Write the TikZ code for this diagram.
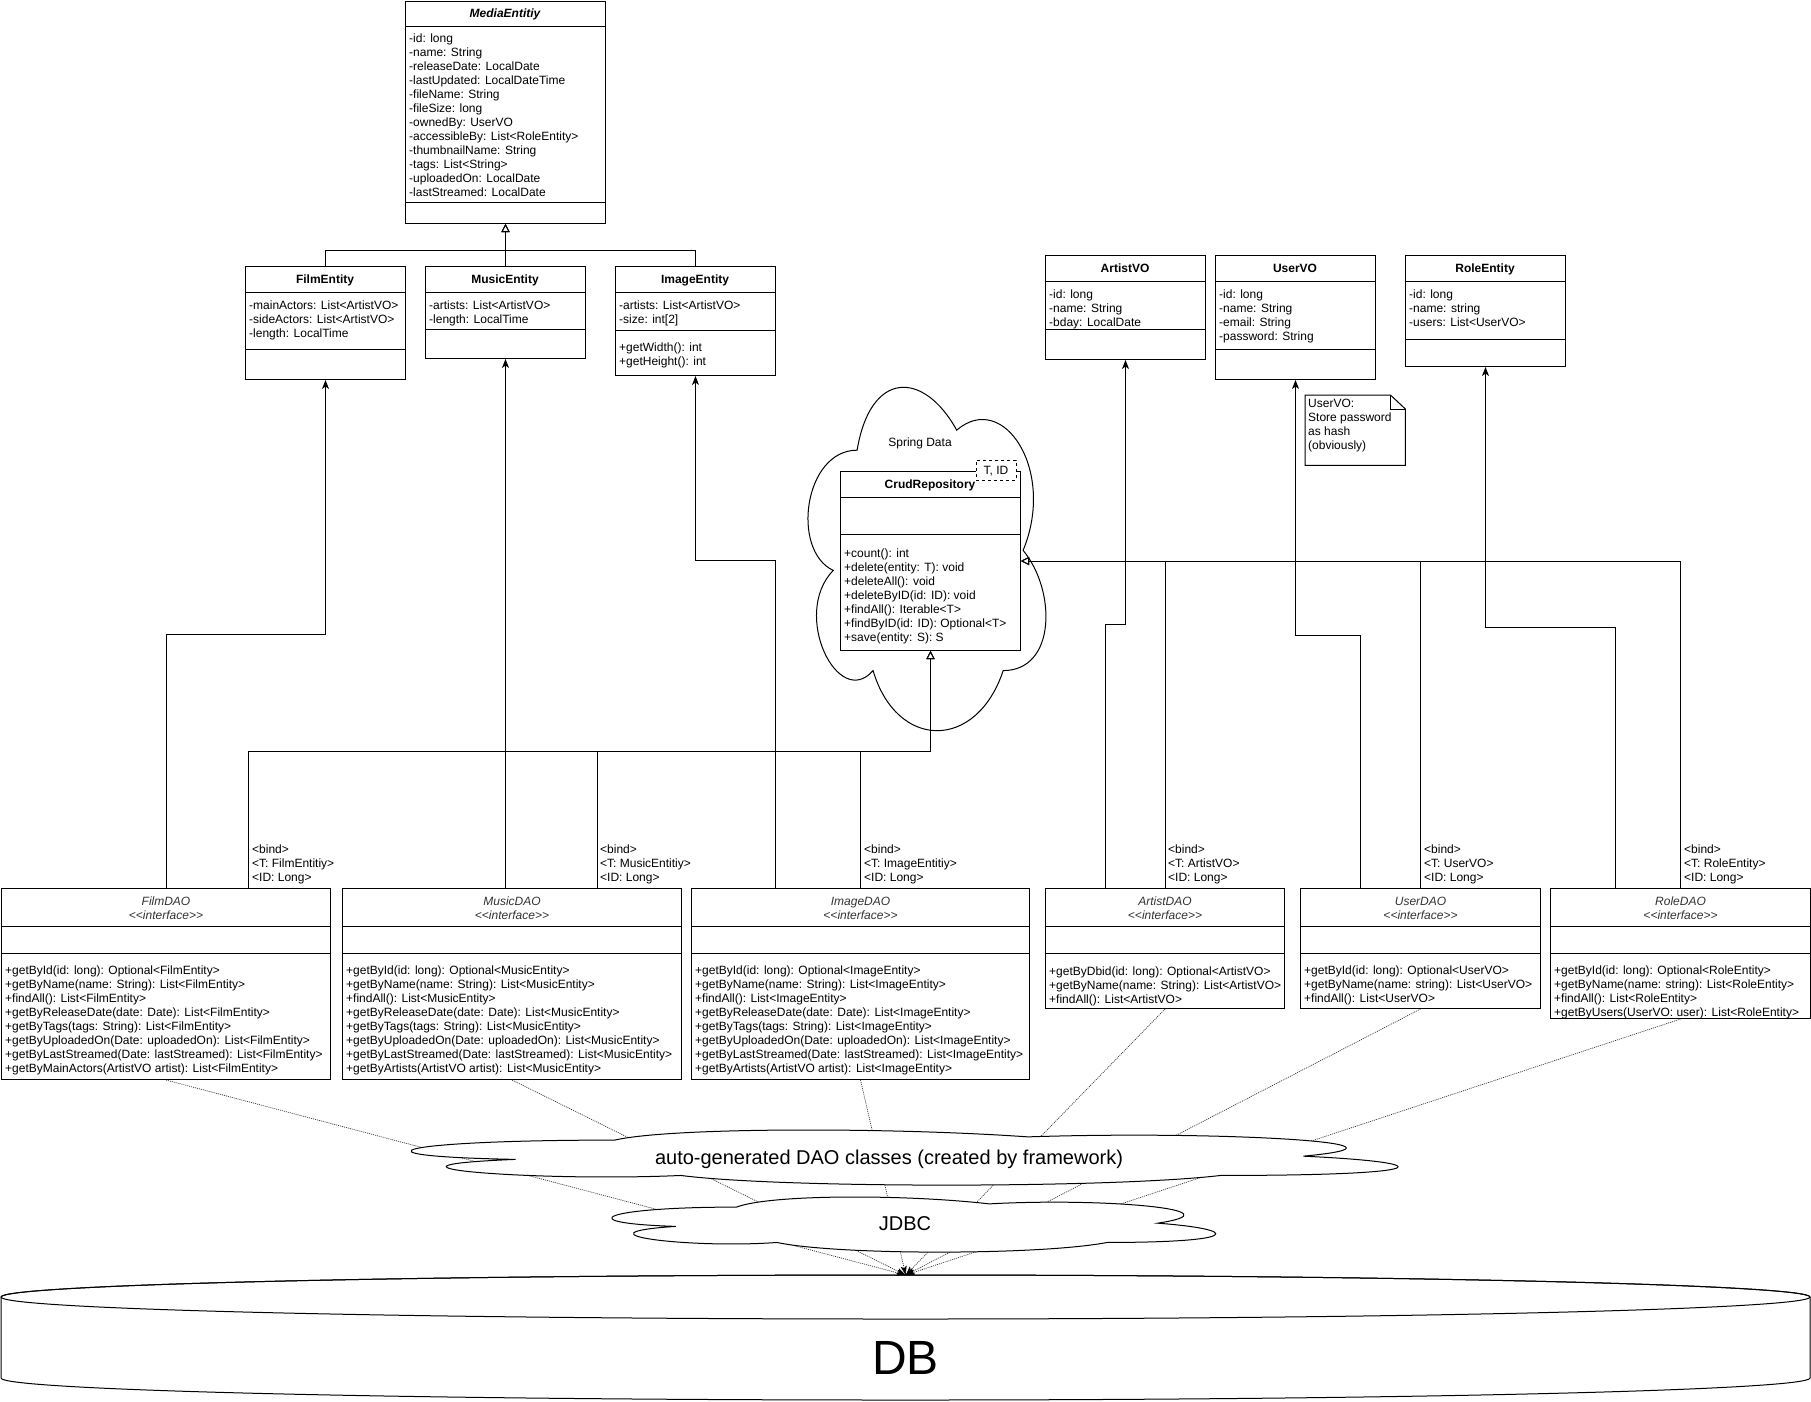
\documentclass[tikz,border=0pt]{standalone}
\usepackage{fontspec}
\setmainfont{Liberation Sans}
\usetikzlibrary{arrows.meta,calc}

% first-line strut so that every text block starts at the same height
\newcommand{\rowstrut}{\rule[-4pt]{0pt}{14pt}}
% stereotype text without the << >> ligature
\newcommand{\stereo}[1]{<{}<#1>{}>}
% horizontal compartment line inside a class box
\newcommand{\divider}[2]{\draw[boxline] (#1.west |- 0,#2) -- (#1.east |- 0,#2);}
% cloud outline: x0, y0, width, height of its frame
\newcommand{\mxcloud}[4]{%
  \draw[cloudline]
    ({#1+0.25*#3},{#2+0.25*#4})
    .. controls ({#1+0.05*#3},{#2+0.25*#4}) and ({#1},{#2+0.5*#4}) .. ({#1+0.16*#3},{#2+0.55*#4})
    .. controls ({#1},{#2+0.66*#4}) and ({#1+0.18*#3},{#2+0.9*#4}) .. ({#1+0.31*#3},{#2+0.8*#4})
    .. controls ({#1+0.4*#3},{#2+#4}) and ({#1+0.7*#3},{#2+#4}) .. ({#1+0.8*#3},{#2+0.8*#4})
    .. controls ({#1+#3},{#2+0.8*#4}) and ({#1+#3},{#2+0.6*#4}) .. ({#1+0.875*#3},{#2+0.5*#4})
    .. controls ({#1+#3},{#2+0.3*#4}) and ({#1+0.8*#3},{#2+0.1*#4}) .. ({#1+0.625*#3},{#2+0.2*#4})
    .. controls ({#1+0.5*#3},{#2+0.05*#4}) and ({#1+0.3*#3},{#2+0.05*#4}) .. cycle;}

\begin{document}
\begin{tikzpicture}[x=1pt,y=-1pt,
  font=\fontsize{12}{14}\selectfont,
  boxline/.style={line width=1pt},
  box/.style={draw, fill=white, line width=1pt, anchor=north west, inner sep=0pt},
  title/.style={inner sep=0pt, text height=8.6pt, text depth=0pt, font=\fontsize{12}{14}\selectfont\bfseries},
  daotitle/.style={inner sep=0pt, text height=8.6pt, text depth=0pt, font=\fontsize{12}{14}\selectfont\itshape, text=black!80},
  rows/.style={anchor=north west, inner sep=0pt, align=left},
  label/.style={inner sep=0pt, text height=8.6pt, text depth=0pt},
  assoc/.style={line width=1pt, -{Stealth[length=9pt,width=7pt,inset=2.5pt]}},
  gen/.style={line width=1pt, -{Triangle[open,fill=white,length=8pt,width=8pt]}},
  dbline/.style={line width=0.7pt, black!80, dash pattern=on 1pt off 1pt, -{Stealth[length=9pt,width=6pt,inset=2pt,color=black,fill=black]}},
  cloudline/.style={draw, fill=white, line width=1pt},
]
\fill[white] (0,0) rectangle (1811,1401);
\useasboundingbox (0,0) rectangle (1811,1401);

% ---------- Spring Data cloud ----------
\mxcloud{790.7}{350}{265.6}{400.7}
\node[label] (springdata) at (920,442) {Spring Data};

% ---------- entity classes ----------
\node[box, minimum width=200pt, minimum height=222pt] (media) at (405,1) {};
\node[title, font=\fontsize{12}{14}\selectfont\bfseries\itshape] (media-t) at (505,13.5) {MediaEntitiy};
\divider{media}{26}\divider{media}{202}
\node[rows] (media-a) at (409,32.3) {\rowstrut -id: long\\-name: String\\-releaseDate: LocalDate\\-lastUpdated: LocalDateTime\\-fileName: String\\-fileSize: long\\-ownedBy: UserVO\\-accessibleBy: List<RoleEntity>\\-thumbnailName: String\\-tags: List<String>\\-uploadedOn: LocalDate\\-lastStreamed: LocalDate};

\node[box, minimum width=160pt, minimum height=113pt] (film) at (245,266) {};
\node[title] (film-t) at (325,279) {FilmEntity};
\divider{film}{292}\divider{film}{349}
\node[rows] (film-a) at (249,299.3) {\rowstrut -mainActors: List<ArtistVO>\\-sideActors: List<ArtistVO>\\-length: LocalTime};

\node[box, minimum width=160pt, minimum height=92pt] (music) at (425,266) {};
\node[title] (music-t) at (505,279) {MusicEntity};
\divider{music}{292}\divider{music}{329}
\node[rows] (music-a) at (429,299.3) {\rowstrut -artists: List<ArtistVO>\\-length: LocalTime};

\node[box, minimum width=160pt, minimum height=109pt] (image) at (615,266) {};
\node[title] (image-t) at (695,279) {ImageEntity};
\divider{image}{292}\divider{image}{330}
\node[rows] (image-a) at (619,299.3) {\rowstrut -artists: List<ArtistVO>\\-size: int[2]};
\node[rows] (image-m) at (619,341.3) {\rowstrut +getWidth(): int\\+getHeight(): int};

\node[box, minimum width=160pt, minimum height=104pt] (artist) at (1045,255) {};
\node[title] (artist-t) at (1125,268) {ArtistVO};
\divider{artist}{281}\divider{artist}{329}
\node[rows] (artist-a) at (1049,288.3) {\rowstrut -id: long\\-name: String\\-bday: LocalDate};

\node[box, minimum width=160pt, minimum height=124pt] (user) at (1215,255) {};
\node[title] (user-t) at (1295,268) {UserVO};
\divider{user}{281}\divider{user}{349}
\node[rows] (user-a) at (1219,288.3) {\rowstrut -id: long\\-name: String\\-email: String\\-password: String};

\node[box, minimum width=160pt, minimum height=111pt] (role) at (1405,255) {};
\node[title] (role-t) at (1485,268) {RoleEntity};
\divider{role}{281}\divider{role}{339}
\node[rows] (role-a) at (1409,288.3) {\rowstrut -id: long\\-name: string\\-users: List<UserVO>};

% ---------- note ----------
\node[inner sep=0pt, minimum width=100pt, minimum height=70pt, anchor=north west] (note) at (1305,395) {};
\draw[line width=1pt, fill=white] (note.north west) -- ($(note.north east)+(-15,0)$) -- ($(note.north east)+(0,14)$) -- (note.south east) -- (note.south west) -- cycle;
\draw[line width=1pt] ($(note.north east)+(-15,0)$) -- ($(note.north east)+(-15,14)$) -- ($(note.north east)+(0,14)$);
\node[rows] (note-t) at (1308,397.3) {\rowstrut UserVO:\\Store password\\as hash\\(obviously)};

% ---------- CrudRepository ----------
\node[box, minimum width=180pt, minimum height=179pt] (crud) at (840,471) {};
\node[title] (crud-t) at (930,484) {CrudRepository};
\divider{crud}{497}\divider{crud}{534}
\node[rows] (crud-m) at (844,547.3) {\rowstrut +count(): int\\+delete(entity: T): void\\+deleteAll(): void\\+deleteByID(id: ID): void\\+findAll(): Iterable<T>\\+findByID(id: ID): Optional<T>\\+save(entity: S): S};
\node[draw, fill=white, line width=1pt, dash pattern=on 3pt off 3pt, inner sep=0pt, minimum width=40pt, minimum height=20pt, text height=8.6pt, text depth=0pt] (crud-tpl) at (996,470) {T, ID};

% ---------- DAO interfaces ----------
\node[box, minimum width=329pt, minimum height=191pt] (filmdao) at (1,888) {};
\node[daotitle] (filmdao-n) at (filmdao.north |- 0,901) {FilmDAO};
\node[daotitle] (filmdao-s) at (filmdao.north |- 0,915) {\stereo{interface}};
\divider{filmdao}{926}\divider{filmdao}{953}
\node[rows] (filmdao-m) at (5,964.3) {\rowstrut +getById(id: long): Optional<FilmEntity>\\+getByName(name: String): List<FilmEntity>\\+findAll(): List<FilmEntity>\\+getByReleaseDate(date: Date): List<FilmEntity>\\+getByTags(tags: String): List<FilmEntity>\\+getByUploadedOn(Date: uploadedOn): List<FilmEntity>\\+getByLastStreamed(Date: lastStreamed): List<FilmEntity>\\+getByMainActors(ArtistVO artist): List<FilmEntity>};

\node[box, minimum width=339pt, minimum height=191pt] (musicdao) at (342,888) {};
\node[daotitle] (musicdao-n) at (musicdao.north |- 0,901) {MusicDAO};
\node[daotitle] (musicdao-s) at (musicdao.north |- 0,915) {\stereo{interface}};
\divider{musicdao}{926}\divider{musicdao}{953}
\node[rows] (musicdao-m) at (346,964.3) {\rowstrut +getById(id: long): Optional<MusicEntity>\\+getByName(name: String): List<MusicEntity>\\+findAll(): List<MusicEntity>\\+getByReleaseDate(date: Date): List<MusicEntity>\\+getByTags(tags: String): List<MusicEntity>\\+getByUploadedOn(Date: uploadedOn): List<MusicEntity>\\+getByLastStreamed(Date: lastStreamed): List<MusicEntity>\\+getByArtists(ArtistVO artist): List<MusicEntity>};

\node[box, minimum width=338pt, minimum height=191pt] (imagedao) at (691,888) {};
\node[daotitle] (imagedao-n) at (imagedao.north |- 0,901) {ImageDAO};
\node[daotitle] (imagedao-s) at (imagedao.north |- 0,915) {\stereo{interface}};
\divider{imagedao}{926}\divider{imagedao}{953}
\node[rows] (imagedao-m) at (695,964.3) {\rowstrut +getById(id: long): Optional<ImageEntity>\\+getByName(name: String): List<ImageEntity>\\+findAll(): List<ImageEntity>\\+getByReleaseDate(date: Date): List<ImageEntity>\\+getByTags(tags: String): List<ImageEntity>\\+getByUploadedOn(Date: uploadedOn): List<ImageEntity>\\+getByLastStreamed(Date: lastStreamed): List<ImageEntity>\\+getByArtists(ArtistVO artist): List<ImageEntity>};

\node[box, minimum width=239pt, minimum height=120pt] (artistdao) at (1045,888) {};
\node[daotitle] (artistdao-n) at (artistdao.north |- 0,901) {ArtistDAO};
\node[daotitle] (artistdao-s) at (artistdao.north |- 0,915) {\stereo{interface}};
\divider{artistdao}{926}\divider{artistdao}{953}
\node[rows] (artistdao-m) at (1049,965.3) {\rowstrut +getByDbid(id: long): Optional<ArtistVO>\\+getByName(name: String): List<ArtistVO>\\+findAll(): List<ArtistVO>};

\node[box, minimum width=240pt, minimum height=120pt] (userdao) at (1300,888) {};
\node[daotitle] (userdao-n) at (userdao.north |- 0,901) {UserDAO};
\node[daotitle] (userdao-s) at (userdao.north |- 0,915) {\stereo{interface}};
\divider{userdao}{926}\divider{userdao}{953}
\node[rows] (userdao-m) at (1304,964.3) {\rowstrut +getById(id: long): Optional<UserVO>\\+getByName(name: string): List<UserVO>\\+findAll(): List<UserVO>};

\node[box, minimum width=260pt, minimum height=130pt] (roledao) at (1550,888) {};
\node[daotitle] (roledao-n) at (roledao.north |- 0,901) {RoleDAO};
\node[daotitle] (roledao-s) at (roledao.north |- 0,915) {\stereo{interface}};
\divider{roledao}{926}\divider{roledao}{953}
\node[rows] (roledao-m) at (1554,964.3) {\rowstrut +getById(id: long): Optional<RoleEntity>\\+getByName(name: string): List<RoleEntity>\\+findAll(): List<RoleEntity>\\+getByUsers(UserVO: user): List<RoleEntity>};

% ---------- template bindings ----------
\node[rows] (bind1) at (252,843.3) {\rowstrut <bind>\\<T: FilmEntitiy>\\<ID: Long>};
\node[rows] (bind2) at (600,843.3) {\rowstrut <bind>\\<T: MusicEntitiy>\\<ID: Long>};
\node[rows] (bind3) at (864,843.3) {\rowstrut <bind>\\<T: ImageEntitiy>\\<ID: Long>};
\node[rows] (bind4) at (1168,843.3) {\rowstrut <bind>\\<T: ArtistVO>\\<ID: Long>};
\node[rows] (bind5) at (1424,843.3) {\rowstrut <bind>\\<T: UserVO>\\<ID: Long>};
\node[rows] (bind6) at (1684,843.3) {\rowstrut <bind>\\<T: RoleEntity>\\<ID: Long>};

% ---------- inheritance ----------
\draw[gen] (film.north) -- ++(0,-16) -| (media.south);
\draw[gen] (music.north) -- (media.south);
\draw[gen] (image.north) -- ++(0,-16) -| (media.south);

% ---------- associations DAO -> entity ----------
\draw[assoc] (filmdao.north) -- ++(0,-254) -| (film.south);
\draw[assoc] (music.south |- musicdao.north) -- (music.south);
\draw[assoc] ($(imagedao.north west)!.25!(imagedao.north east)$) -- ++(0,-328) -| (image.south);
\draw[assoc] ($(artistdao.north west)!.25!(artistdao.north east)$) -- ++(0,-264) -| (artist.south);
\draw[assoc] ($(userdao.north west)!.25!(userdao.north east)$) -- ++(0,-253) -| (user.south);
\draw[assoc] ($(roledao.north west)!.25!(roledao.north east)$) -- ++(0,-261) -| (role.south);

% ---------- realisation of CrudRepository ----------
\draw[gen] (artistdao.north) |- (crud.east);
\draw[gen] (userdao.north) |- (crud.east);
\draw[gen] (roledao.north) |- (crud.east);
\draw[gen] ($(filmdao.north west)!.75!(filmdao.north east)$) -- ++(0,-137) -| (crud.south);
\draw[gen] ($(musicdao.north west)!.75!(musicdao.north east)$) -- ++(0,-137) -| (crud.south);
\draw[gen] (imagedao.north) -- ++(0,-137) -| (crud.south);

% ---------- database ----------
\node[inner sep=0pt, minimum width=1809pt, minimum height=125pt, anchor=north west] (db) at (1,1275) {};
\draw[line width=1pt, fill=white] (1,1297) -- (1,1378) arc[start angle=180, end angle=0, x radius=904.5, y radius=22] -- (1810,1297) arc[start angle=0, end angle=-180, x radius=904.5, y radius=22] -- cycle;
\draw[line width=1pt] (905.5,1297) ellipse [x radius=904.5, y radius=22];
\node[inner sep=0pt, font=\fontsize{48}{56}\selectfont, text height=34.4pt, text depth=0pt] (dbtext) at (905.5,1357) {DB};

\foreach \d in {filmdao,musicdao,imagedao,artistdao,userdao,roledao}
  \draw[dbline] (\d.south) -- (db.north);

% ---------- framework layers ----------
\mxcloud{339.4}{1124}{1101.6}{64.3}
\node[inner sep=0pt, font=\fontsize{20}{24}\selectfont, text height=14.3pt, text depth=0pt] (autogen) at (889,1157) {auto-generated DAO classes (created by framework)};
\mxcloud{568}{1191}{674}{64.3}
\node[inner sep=0pt, font=\fontsize{20}{24}\selectfont, text height=14.3pt, text depth=0pt] (jdbc) at (905,1223) {JDBC};
\end{tikzpicture}
\end{document}
